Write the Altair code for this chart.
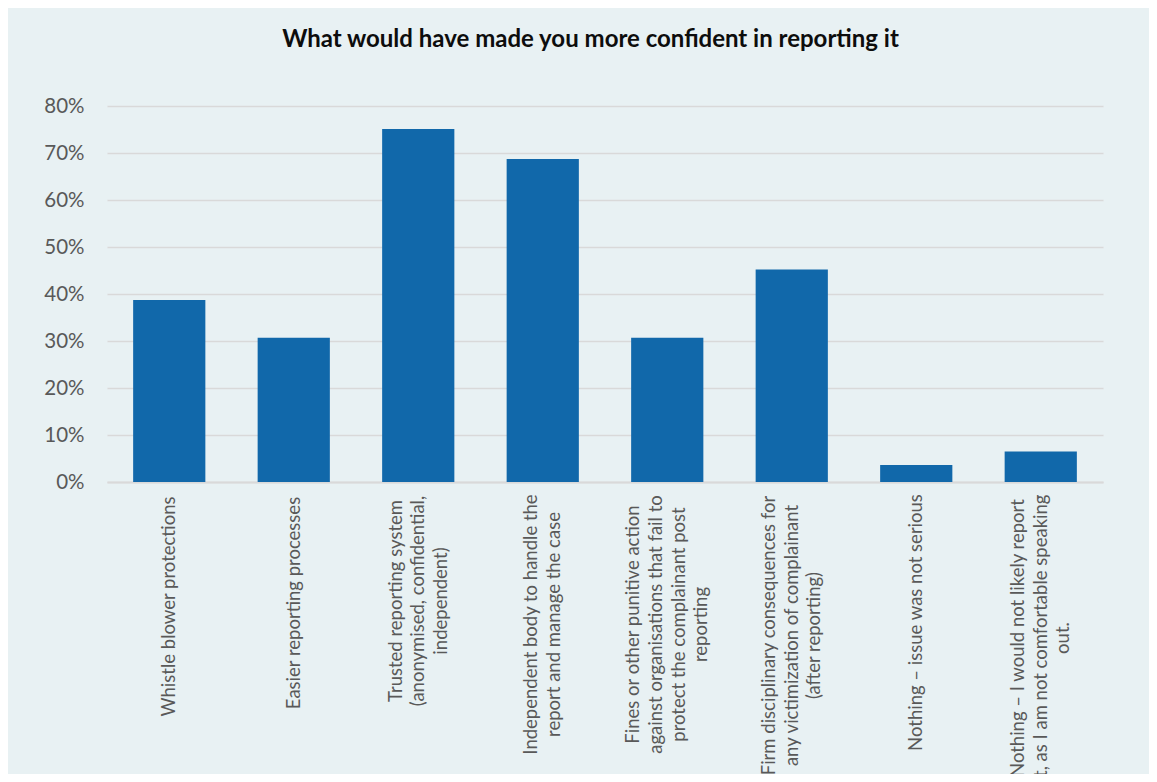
import json
import altair as alt
import pandas as pd

# ---- data ----
categories = [
    "Whistle blower protections",
    "Easier reporting processes",
    "Trusted reporting system|(anonymised, confidential,|independent)",
    "Independent body to handle the|report and manage the case",
    "Fines or other punitive action|against organisations that fail to|protect the complainant post|reporting",
    "Firm disciplinary consequences for|any victimization of complainant|(after reporting)",
    "Nothing \u2013 issue was not serious",
    "Nothing \u2013 I would not likely report|it, as I am not comfortable speaking|out.",
]
values = [0.387, 0.307, 0.751, 0.687, 0.307, 0.452, 0.036, 0.065]
y_ticks = [0, 0.1, 0.2, 0.3, 0.4, 0.5, 0.6, 0.7, 0.8]
title_text = "What would have made you more confident in reporting it"

# ---- style: distance from axis to the centre of each rotated label block ----
label_centres = [124, 120.5, 118.5, 142, 142, 153, 140, 155.5]
line_height = 22.7

df = pd.DataFrame({"category": categories, "share": values})

pad_cond = [
    {"test": f"datum.value === {json.dumps(c)}", "value": p}
    for c, p in zip(categories, label_centres)
]
# centre multi-line blocks on their bar
off_cond = [
    {"test": f"datum.value === {json.dumps(c)}",
     "value": -(c.count("|")) * line_height / 2}
    for c in categories
]

x_axis = alt.Axis(
    title=None,
    labelAngle=-90,
    labelAlign="center",
    labelBaseline="middle",
    labelExpr="split(datum.label, '|')",
    labelFont="Lato",
    labelFontSize=18.5,
    labelColor="#595959",
    labelLineHeight=line_height,
    labelPadding={"condition": pad_cond, "value": 130},
    labelOffset={"condition": off_cond, "value": 0},
    labelLimit=0,
    labelOverlap=False,
    labelBound=False,
    ticks=False,
    tickSize=0,
    domainColor="#d9d9d9",
    domainWidth=2,
)

y_axis = alt.Axis(
    title=None,
    format=".0%",
    values=y_ticks,
    labelFont="Lato",
    labelFontSize=20.5,
    labelColor="#595959",
    labelPadding=23,
    domain=False,
    ticks=False,
    tickSize=0,
    gridColor="#d9d9d9",
    gridWidth=1.5,
)

chart = (
    alt.Chart(df)
    .mark_bar(color="#1168AA")
    .encode(
        x=alt.X("category:N", sort=None, axis=x_axis,
                scale=alt.Scale(paddingInner=0.42, paddingOuter=0.21)),
        y=alt.Y("share:Q", axis=y_axis,
                scale=alt.Scale(domain=[0, 0.8], nice=False)),
    )
    .properties(
        width=996,
        height=376,
        title=alt.TitleParams(
            text=title_text,
            font="Lato",
            fontSize=24,
            fontWeight="bold",
            color="#0d0d0d",
            anchor="middle",
            frame="group",
            dx=-14.5,
            baseline="alphabetic",
            offset=25,
        ),
        background="#E8F1F3",
        autosize=alt.AutoSizeParams(type="none"),
        padding={"left": 99, "top": 98, "right": 46, "bottom": 292},
    )
    .configure_view(stroke=None)
)

chart.save("out.html", embed_options={"renderer": "svg", "actions": False})
